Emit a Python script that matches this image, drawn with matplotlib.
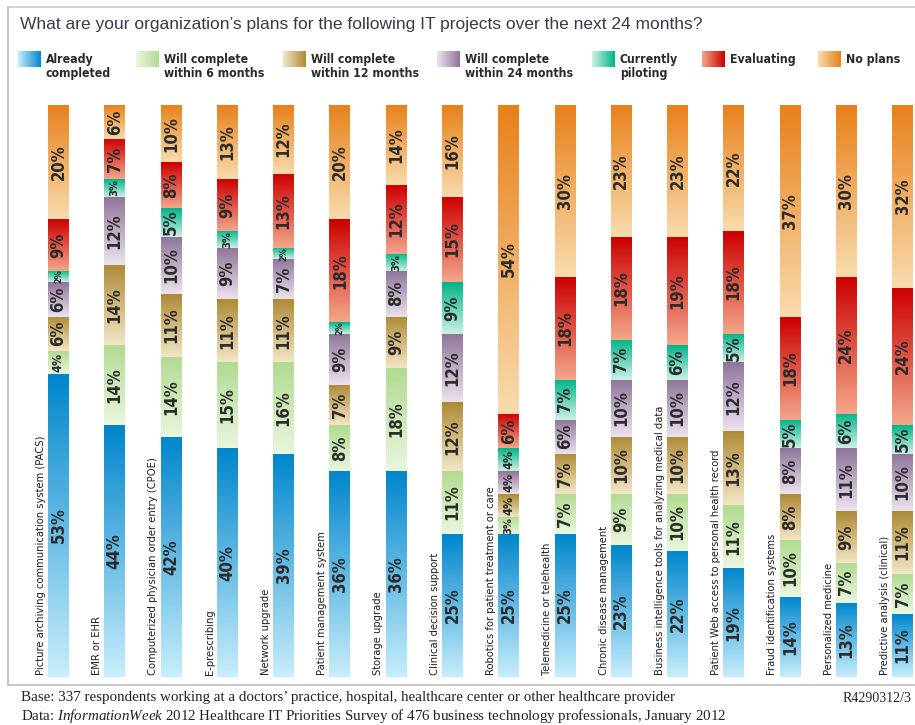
import numpy as np
import matplotlib
matplotlib.use("Agg")
import matplotlib.pyplot as plt
from matplotlib import font_manager
from matplotlib.colors import LinearSegmentedColormap

plt.rcParams["mathtext.fontset"] = "custom"
plt.rcParams["mathtext.it"] = "Liberation Serif:italic"
plt.rcParams["mathtext.rm"] = "Liberation Serif"

# projects, left to right
projects = [
    "Picture archiving communication system (PACS)",
    "EMR or EHR",
    "Computerized physician order entry (CPOE)",
    "E-prescribing",
    "Network upgrade",
    "Patient management system",
    "Storage upgrade",
    "Clinical decision support",
    "Robotics for patient treatment or care",
    "Telemedicine or telehealth",
    "Chronic disease management",
    "Business intelligence tools for analyzing medical data",
    "Patient Web access to personal health record",
    "Fraud identification systems",
    "Personalized medicine",
    "Predictive analysis (clinical)",
]

series = ["Already\ncompleted", "Will complete\nwithin 6 months", "Will complete\nwithin 12 months",
          "Will complete\nwithin 24 months", "Currently\npiloting", "Evaluating", "No plans"]

already = [53, 44, 42, 40, 39, 36, 36, 25, 25, 25, 23, 22, 19, 14, 13, 11]
six_mo = [4, 14, 14, 15, 16, 8, 18, 11, 3, 7, 9, 10, 11, 10, 7, 7]
twelve_mo = [6, 14, 11, 11, 11, 7, 9, 12, 4, 7, 10, 10, 13, 8, 9, 11]
twentyfour_mo = [6, 12, 10, 9, 7, 9, 8, 12, 4, 6, 10, 10, 12, 8, 11, 10]
piloting = [2, 3, 5, 3, 2, 2, 3, 9, 4, 7, 7, 6, 5, 5, 6, 5]
evaluating = [9, 7, 8, 9, 13, 18, 12, 15, 6, 18, 18, 19, 18, 18, 24, 24]
no_plans = [20, 6, 10, 13, 12, 20, 14, 16, 54, 30, 23, 23, 22, 37, 30, 32]

# (light bottom, dark top)
colors = [("#c8eefb", "#0086cc"), ("#eaf6de", "#b0db90"), ("#f3e6c6", "#ae8a36"),
          ("#ebe3ee", "#8f7499"), ("#cdf1e4", "#00b389"), ("#f3a78a", "#cc0000"),
          ("#f8dcae", "#e8801a")]


def find_font(keys, bold=False):
    # look for a narrow/condensed face among installed files
    files = [f.fname for f in font_manager.fontManager.ttflist]
    for key in keys:
        for fn in files:
            base = fn.split("/")[-1].lower()
            if key in base and (("bold" in base) == bold) and "italic" not in base and "oblique" not in base:
                return font_manager.FontProperties(fname=fn)
    return font_manager.FontProperties(family="DejaVu Sans", weight="bold" if bold else "normal")


keys = ["liberationsansnarrow", "dejavusanscondensed", "robotocondensed", "opensans_condensed",
        "opensans-condensed", "notosans-condensed"]
f_reg = find_font(keys)
f_bold = find_font(keys, bold=True)

data = [already, six_mo, twelve_mo, twentyfour_mo, piloting, evaluating, no_plans]
cmaps = [LinearSegmentedColormap.from_list("c%d" % i, c) for i, c in enumerate(colors)]

fig = plt.figure(figsize=(9.15, 7.25), dpi=100)
W, H = 915.0, 725.0
ax = fig.add_axes([0, (H - 677) / H, 1, (677 - 105) / H])
step = 56.27
x0 = 58.5
ax.axis("off")

bw = 0.37
grad = np.linspace(0, 1, 256).reshape(-1, 1)
for i in range(len(projects)):
    bottom = 0
    for k in range(len(data)):
        v = data[k][i]
        ax.imshow(grad, cmap=cmaps[k], origin="lower", aspect="auto",
                  extent=[i - bw / 2, i + bw / 2, bottom, bottom + v], interpolation="bilinear")
        if v >= 5:
            fs = 12
        elif v == 4:
            fs = 9
        elif v == 3:
            fs = 8
        else:
            fs = 6.5
        ax.text(i, bottom + v / 2, "%d%%" % v, rotation=90, ha="center", va="center",
                fontproperties=f_bold, fontsize=fs, color="#2b2b2b")
        bottom += v
    ax.text(i - bw / 2 - 0.04, 0.3, projects[i], rotation=90, ha="right", va="bottom",
            fontproperties=f_reg, fontsize=8, color="#1e1e1e")

ax.set_xlim(-x0 / step, (W - x0) / step)
ax.set_ylim(0, 100)

# frame lines
fig.add_artist(plt.Line2D([8 / W, 8 / W], [1 - 7 / H, 1 - 685 / H], color="#bbbbbb", lw=1.2))
fig.add_artist(plt.Line2D([8 / W, 1], [1 - 7 / H, 1 - 7 / H], color="#cccccc", lw=1.2))
fig.add_artist(plt.Line2D([8 / W, 1], [1 - 685 / H, 1 - 685 / H], color="#bbbbbb", lw=1.2))

fig.text(20 / W, 1 - 25 / H, "What are your organization\u2019s plans for the following IT projects over the next 24 months?",
         fontsize=12.5, color="#3a3a48", va="center", ha="left", family="Liberation Sans")

# legend
sw_x = [18, 136, 283, 437, 592, 702, 818]
for k in range(len(series)):
    lax = fig.add_axes([sw_x[k] / W, 1 - 67 / H, 23 / W, 16 / H])
    lax.imshow(grad.T, cmap=cmaps[k], aspect="auto", interpolation="bilinear")
    lax.axis("off")
    fig.text((sw_x[k] + 28) / W, 1 - 53 / H, series[k], fontproperties=f_bold, fontsize=8.8,
             color="#2a2a2a", va="top", ha="left", linespacing=1.1)

fig.text(21 / W, 1 - 698 / H, "Base: 337 respondents working at a doctors\u2019 practice, hospital, healthcare center or other healthcare provider",
         fontsize=10.8, family="Liberation Serif", color="#222222", va="center")
fig.text(21 / W, 1 - 716 / H, "Data: $\\mathit{InformationWeek}$ 2012 Healthcare IT Priorities Survey of 476 business technology professionals, January 2012",
         fontsize=10.8, family="Liberation Serif", color="#222222", va="center")
fig.text(911 / W, 1 - 698 / H, "R4290312/3", fontsize=10, family="Liberation Serif", color="#222222",
         va="center", ha="right")

fig.savefig("out.png", dpi=100)
